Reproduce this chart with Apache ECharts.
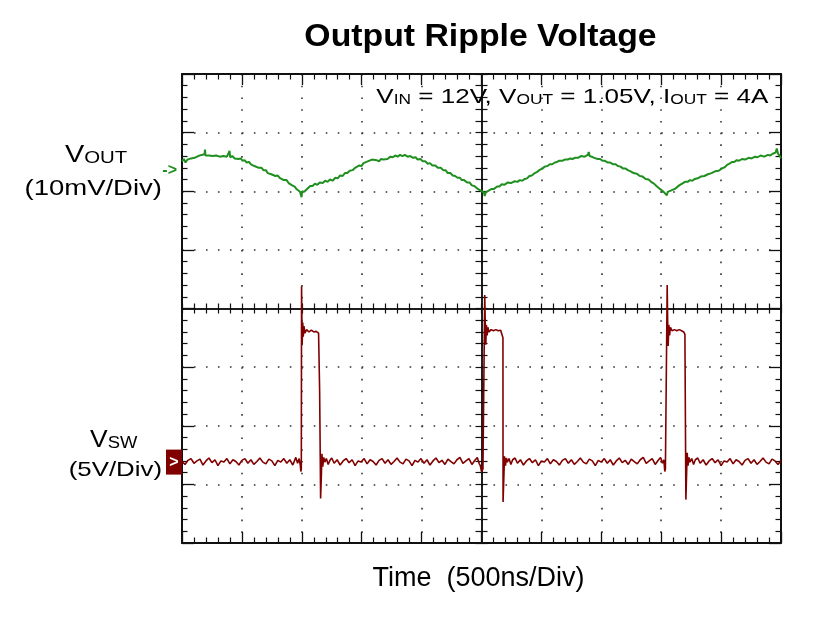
<!DOCTYPE html>
<html><head><meta charset="utf-8">
<script src="https://cdn.jsdelivr.net/npm/echarts@6/dist/echarts.min.js"></script>
<style>html,body{margin:0;padding:0;background:#fff}#c{width:818px;height:625px}</style>
</head><body><div id="c"></div>
<script>
// ---- scope settings ----
const timeMinNs = 0, timeMaxNs = 5000, nsPerDiv = 500;   // 10 divisions
const voutMvPerDiv = 10, vswVPerDiv = 5, yDivs = 8;
const voutZeroDiv = 6.36;  // channel marker position (divisions from bottom)
const vswZeroDiv = 1.38;

// ---- VOUT ripple: [time ns, mV relative to channel marker] ----
const voutSamples = [[0,1.5],[15,1.9],[30,1.3],[45,1.8],[60,1.6],[75,2.0],[90,1.7],[105,2.1],[121,1.9],[135,2.4],[150,2.2],[165,2.6],[180,2.3],[188,2.7],[192,3.5],[196,2.5],[210,2.8],[225,2.5],[240,2.7],[255,2.4],[270,2.7],[285,2.5],[300,2.6],[315,2.3],[330,2.6],[345,2.4],[360,2.6],[375,2.3],[390,2.5],[397,3.3],[402,2.2],[420,2.4],[440,2.0],[455,2.3],[470,1.9],[490,2.0],[505,1.6],[522,1.7],[540,1.3],[560,1.4],[575,1.0],[589,1.1],[605,0.7],[620,0.9],[640,0.4],[664,0.4],[680,0.0],[700,0.0],[715,-0.5],[731,-0.4],[745,-0.7],[760,-0.6],[780,-1.0],[798,-0.9],[815,-1.3],[830,-1.2],[850,-1.7],[873,-1.7],[890,-2.2],[905,-2.1],[920,-2.6],[940,-2.8],[955,-3.2],[970,-3.1],[985,-3.7],[995,-3.8],[998,-4.6],[1003,-3.6],[1020,-3.7],[1040,-3.3],[1055,-3.1],[1070,-2.7],[1090,-2.7],[1110,-2.3],[1130,-2.5],[1150,-2.1],[1174,-2.2],[1195,-1.8],[1215,-2.0],[1235,-1.6],[1257,-1.8],[1280,-1.3],[1300,-1.4],[1320,-0.9],[1341,-1.0],[1360,-0.5],[1380,-0.5],[1400,-0.1],[1424,0.0],[1445,0.4],[1460,0.3],[1480,0.8],[1499,0.7],[1515,1.2],[1530,1.0],[1550,1.5],[1566,1.4],[1585,1.8],[1600,1.6],[1625,1.7],[1645,1.5],[1660,1.9],[1680,1.8],[1692,2.1],[1715,1.9],[1740,2.3],[1760,2.2],[1780,2.5],[1800,2.3],[1820,2.6],[1840,2.4],[1860,2.6],[1884,2.3],[1905,2.4],[1930,2.1],[1950,2.2],[1967,1.8],[1990,1.9],[2010,1.5],[2030,1.5],[2051,1.1],[2070,1.2],[2090,0.8],[2115,0.8],[2135,0.4],[2160,0.4],[2180,0.0],[2200,0.0],[2218,-0.5],[2240,-0.5],[2260,-0.9],[2280,-1.0],[2300,-1.3],[2320,-1.3],[2335,-1.7],[2355,-1.7],[2380,-2.1],[2400,-2.1],[2419,-2.6],[2440,-2.7],[2455,-3.0],[2470,-3.2],[2485,-3.4],[2500,-3.6],[2510,-3.9],[2520,-3.8],[2527,-4.4],[2535,-3.8],[2545,-4.0],[2560,-3.5],[2575,-3.7],[2586,-3.2],[2605,-3.2],[2630,-2.8],[2650,-2.8],[2669,-2.4],[2690,-2.5],[2720,-2.1],[2745,-2.2],[2778,-1.9],[2800,-2.0],[2820,-1.7],[2840,-1.8],[2861,-1.5],[2880,-1.4],[2900,-1.0],[2920,-0.9],[2945,-0.5],[2965,-0.3],[2990,0.1],[3010,0.3],[3028,0.6],[3050,0.7],[3070,1.0],[3090,1.0],[3112,1.3],[3130,1.4],[3150,1.6],[3175,1.6],[3196,1.8],[3220,1.8],[3240,2.0],[3260,1.9],[3279,2.1],[3305,2.1],[3330,2.4],[3360,2.3],[3388,2.6],[3395,3.1],[3402,2.4],[3420,2.3],[3440,2.1],[3455,2.2],[3471,1.9],[3490,1.9],[3510,1.6],[3530,1.6],[3555,1.3],[3575,1.3],[3600,1.0],[3620,1.0],[3638,0.7],[3660,0.6],[3680,0.3],[3700,0.3],[3722,0.0],[3745,-0.2],[3770,-0.5],[3795,-0.6],[3822,-1.0],[3845,-1.1],[3870,-1.5],[3895,-1.6],[3922,-2.1],[3940,-2.3],[3960,-2.7],[3975,-2.8],[3989,-3.2],[4005,-3.3],[4020,-3.7],[4035,-3.8],[4047,-4.3],[4055,-3.7],[4068,-3.9],[4080,-3.5],[4095,-3.5],[4114,-3.2],[4130,-3.0],[4150,-2.6],[4175,-2.3],[4198,-2.0],[4220,-2.0],[4240,-1.7],[4260,-1.8],[4281,-1.5],[4305,-1.4],[4330,-1.1],[4360,-1.0],[4390,-0.7],[4420,-0.5],[4450,-0.2],[4480,-0.1],[4507,0.3],[4530,0.5],[4550,0.9],[4570,1.1],[4590,1.4],[4610,1.4],[4630,1.7],[4650,1.6],[4674,1.9],[4700,1.8],[4730,2.1],[4755,2.0],[4783,2.3],[4805,2.2],[4830,2.5],[4860,2.3],[4891,2.6],[4910,2.5],[4930,2.8],[4945,2.6],[4955,3.0],[4965,3.7],[4975,2.8],[4990,2.4],[5000,2.0]];

// ---- VSW switch node: [time ns, V relative to channel marker] ----
const vswSamples = [[0,0.05],[25,-0.2],[50,0.15],[75,0.3],[100,-0.1],[125,0.1],[150,0.25],[175,-0.25],[200,0.1],[225,0.35],[250,-0.05],[275,0.2],[300,-0.3],[325,0.1],[350,0.0],[375,0.3],[400,-0.15],[425,0.2],[450,0.05],[475,-0.25],[500,0.15],[525,0.3],[550,-0.1],[575,0.2],[600,-0.2],[625,0.05],[650,0.35],[675,0.0],[700,-0.15],[725,0.25],[750,0.1],[775,-0.3],[800,0.15],[825,0.0],[850,0.3],[875,-0.1],[900,0.2],[925,-0.25],[950,0.4],[965,-0.1],[978,0.3],[988,-0.3],[992,-0.8],
 [996,-0.6],[998,15.0],[1001,12.0],[1003,10.0],[1008,11.9],[1012,10.7],[1018,11.6],[1026,11.0],[1040,11.3],[1060,11.1],[1080,11.25],[1100,11.1],[1120,11.15],[1140,11.0],[1148,10.9],[1149,6.0],[1156,5.9],[1157,-3.1],[1164,-0.9],[1168,0.7],[1175,-0.4],[1183,0.4],[1192,0.0],
 [1205,0.3],[1220,-0.2],[1235,0.15],[1250,0.35],[1270,-0.1],[1295,0.2],[1320,-0.25],[1345,0.1],[1370,0.3],[1395,-0.05],[1420,0.2],[1445,-0.3],[1470,0.1],[1495,0.0],[1520,0.3],[1545,-0.15],[1570,0.2],[1595,0.05],[1620,-0.25],[1645,0.15],[1670,0.3],[1695,-0.1],[1720,0.2],[1745,-0.2],[1770,0.05],[1795,0.35],[1820,0.0],[1845,-0.15],[1870,0.25],[1895,0.1],[1920,-0.3],[1945,0.15],[1970,0.0],[1995,0.3],[2020,-0.1],[2045,0.2],[2070,-0.25],[2095,0.1],[2120,0.35],[2145,-0.05],[2170,0.15],[2195,-0.2],[2220,0.25],[2245,0.05],[2270,-0.15],[2295,0.2],[2320,0.4],[2345,-0.1],[2370,0.1],[2395,0.3],[2420,-0.2],[2445,0.15],[2465,0.4],[2480,-0.1],[2490,-0.3],
 [2500,-0.8],[2512,-0.6],[2527,14.25],[2533,11.0],[2536,10.0],[2541,11.7],[2547,10.8],[2553,11.5],[2562,11.1],[2580,11.3],[2600,11.2],[2620,11.3],[2640,11.2],[2660,11.25],[2667,11.1],[2679,10.6],[2680,-3.4],[2692,0.5],[2700,-0.3],[2708,0.35],[2716,0.0],
 [2730,0.3],[2745,-0.2],[2760,0.2],[2780,0.35],[2800,-0.1],[2825,0.2],[2850,-0.25],[2875,0.1],[2900,0.3],[2925,-0.05],[2950,0.2],[2975,-0.3],[3000,0.1],[3025,0.0],[3050,0.3],[3075,-0.15],[3100,0.2],[3125,0.05],[3150,-0.25],[3175,0.15],[3200,0.3],[3225,-0.1],[3250,0.2],[3275,-0.2],[3300,0.05],[3325,0.35],[3350,0.0],[3375,-0.15],[3400,0.25],[3425,0.1],[3450,-0.3],[3475,0.15],[3500,0.0],[3525,0.3],[3550,-0.1],[3575,0.2],[3600,-0.25],[3625,0.1],[3650,0.35],[3675,-0.05],[3700,0.15],[3725,-0.2],[3750,0.25],[3775,0.05],[3800,-0.15],[3825,0.2],[3850,0.4],[3875,-0.1],[3900,0.1],[3925,0.3],[3950,-0.2],[3975,0.15],[3995,0.4],[4010,-0.1],[4022,0.2],
 [4030,-0.8],[4035,-0.6],[4050,15.1],[4054,12.0],[4058,9.9],[4064,11.7],[4070,10.8],[4077,11.5],[4090,11.2],[4110,11.3],[4130,11.2],[4150,11.3],[4170,11.2],[4188,11.1],[4198,10.9],[4199,9.0],[4205,8.9],[4206,-3.2],[4217,0.8],[4224,-0.3],[4232,0.4],[4240,0.0],
 [4255,0.3],[4270,-0.2],[4285,0.2],[4305,0.35],[4325,-0.1],[4350,0.2],[4375,-0.25],[4400,0.1],[4425,0.3],[4450,-0.05],[4475,0.2],[4500,-0.3],[4525,0.1],[4550,0.0],[4575,0.3],[4600,-0.15],[4625,0.2],[4650,0.05],[4675,-0.25],[4700,0.15],[4725,0.3],[4750,-0.1],[4775,0.2],[4800,-0.2],[4825,0.05],[4850,0.35],[4875,0.0],[4900,-0.15],[4925,0.25],[4950,0.1],[4975,-0.2],[5000,0.15]];

// ---- texts ----
const titleText = 'Output Ripple Voltage';
const condText = '{m|V}{s|IN}{m| = 12V, V}{s|OUT}{m| = 1.05V, I}{s|OUT}{m| = 4A}';
const ch1Name = '{m|V}{s|OUT}', ch1Scale = '(10mV/Div)';
const ch2Name = '{m|V}{s|SW}', ch2Scale = '(5V/Div)';
const xTitle = 'Time  (500ns/Div)';

const GREEN = '#1f8f1f', RED = '#800000', INK = '#111';
const FF = '"Liberation Sans", Arial, Helvetica, sans-serif';

const chart = echarts.init(document.getElementById('c'), null, {renderer: 'canvas'});

const hid = {show: false};
function borderX(pos, withSplit) {
  return {type: 'value', min: timeMinNs, max: timeMaxNs, interval: nsPerDiv, position: pos,
    axisLine: {show: true, onZero: false, lineStyle: {color: INK, width: 2}},
    axisTick: {show: true, inside: true, length: 11, lineStyle: {color: INK, width: 1.3}},
    minorTick: {show: true, splitNumber: 5, length: 5.5, lineStyle: {color: INK, width: 1.2}},
    axisLabel: hid,
    splitLine: {show: withSplit, lineStyle: {color: '#333', width: 1.6, type: [1.6, 10.125]}},
    minorSplitLine: hid};
}
function centerX(inside) {
  return {type: 'value', min: timeMinNs, max: timeMaxNs, interval: nsPerDiv / 5, position: 'bottom', offset: -234.5,
    axisLine: {show: true, onZero: false, lineStyle: {color: INK, width: 1.5}},
    axisTick: {show: true, inside: inside, length: 5, lineStyle: {color: INK, width: 1.2}},
    axisLabel: hid, splitLine: hid};
}
function borderY(pos, withSplit) {
  return {type: 'value', min: 0, max: yDivs, interval: 1, position: pos,
    axisLine: {show: true, onZero: false, lineStyle: {color: INK, width: 2}},
    axisTick: {show: true, inside: true, length: 12, lineStyle: {color: INK, width: 1.3}},
    minorTick: {show: true, splitNumber: 5, length: 5.5, lineStyle: {color: INK, width: 1.2}},
    axisLabel: hid,
    splitLine: {show: withSplit, lineStyle: {color: '#333', width: 1.6, type: [1.6, 10.38]}},
    minorSplitLine: hid};
}
function centerY(inside) {
  return {type: 'value', min: 0, max: yDivs, interval: 0.2, position: 'left', offset: -299.5,
    axisLine: {show: true, onZero: false, lineStyle: {color: INK, width: 1.5}},
    axisTick: {show: true, inside: inside, length: 6, lineStyle: {color: INK, width: 1.2}},
    axisLabel: hid, splitLine: hid};
}

chart.setOption({
  animation: false,
  backgroundColor: '#fff',
  grid: {left: 182, top: 74, right: 37, bottom: 82, outerBoundsMode: 'none', containLabel: false},
  xAxis: [borderX('bottom', true), borderX('top', false), centerX(true), centerX(false)],
  yAxis: [
    {type: 'value', show: false, min: -voutZeroDiv * voutMvPerDiv, max: (yDivs - voutZeroDiv) * voutMvPerDiv, axisLine: {onZero: false}},
    {type: 'value', show: false, min: -vswZeroDiv * vswVPerDiv, max: (yDivs - vswZeroDiv) * vswVPerDiv, axisLine: {onZero: false}},
    borderY('left', true), borderY('right', false), centerY(true), centerY(false)
  ],
  series: [
    {name: 'VOUT', type: 'line', xAxisIndex: 0, yAxisIndex: 0, showSymbol: false, symbol: 'none',
     data: voutSamples, lineStyle: {color: GREEN, width: 2}, z: 5},
    {name: 'VSW', type: 'line', xAxisIndex: 0, yAxisIndex: 1, showSymbol: false, symbol: 'none',
     data: vswSamples, lineStyle: {color: RED, width: 1.6}, z: 6}
  ]
});

function txt(id, x, y, text, opts) {
  const st = Object.assign({text: text, fill: '#000', textFill: '#000'}, opts.style);
  return {type: 'text', id: id, x: x, y: y, scaleX: opts.scaleX || 1, z: 100, style: st};
}
function align(h, v) { return {align: h, textAlign: h, verticalAlign: v, textVerticalAlign: v}; }
function richItems(m, s) {
  return {m: {fontSize: m, fontFamily: FF, fill: '#000', textFill: '#000', verticalAlign: 'bottom', textVerticalAlign: 'bottom'},
          s: {fontSize: s, fontFamily: FF, fill: '#000', textFill: '#000', verticalAlign: 'bottom', textVerticalAlign: 'bottom'}};
}

const p1 = chart.convertToPixel({xAxisIndex: 0, yAxisIndex: 0}, [timeMinNs, 0]);
const p2 = chart.convertToPixel({xAxisIndex: 0, yAxisIndex: 1}, [timeMinNs, 0]);

chart.setOption({graphic: [
  txt('title', 480.5, 37, titleText, {scaleX: 1.09, style: Object.assign({font: 'bold 31px ' + FF}, align('center', 'middle'))}),
  txt('cond', 768.3, 96.8, condText, {scaleX: 1.24, style: Object.assign({font: '21px ' + FF, rich: richItems(21, 14)}, align('right', 'middle'))}),
  txt('ch1n', 65, 154.9, ch1Name, {scaleX: 1.2, style: Object.assign({font: '24px ' + FF, rich: richItems(24, 17)}, align('left', 'middle'))}),
  txt('ch1s', 162, 188.9, ch1Scale, {scaleX: 1.25, style: Object.assign({font: '22px ' + FF}, align('right', 'middle'))}),
  txt('ch2n', 90, 440.2, ch2Name, {scaleX: 1.15, style: Object.assign({font: '23px ' + FF, rich: richItems(23, 16)}, align('left', 'middle'))}),
  txt('ch2s', 162, 470.2, ch2Scale, {scaleX: 1.23, style: Object.assign({font: '21px ' + FF}, align('right', 'middle'))}),
  txt('xt', 372.5, 578.9, xTitle, {style: Object.assign({font: '27px ' + FF}, align('left', 'middle'))}),
  // channel markers
  txt('m1', p1[0] - 5, p1[1], '->', {style: Object.assign({font: 'bold 16px ' + FF, fill: GREEN, textFill: GREEN}, align('right', 'middle'))}),
  {type: 'rect', id: 'm2r', z: 100, shape: {x: p2[0] - 16, y: p2[1] - 12.5, width: 16, height: 25}, style: {fill: RED}},
  txt('m2t', p2[0] - 8, p2[1], '>', {style: Object.assign({font: 'bold 16px ' + FF, fill: '#fff', textFill: '#fff'}, align('center', 'middle'))})
]});
</script></body></html>
